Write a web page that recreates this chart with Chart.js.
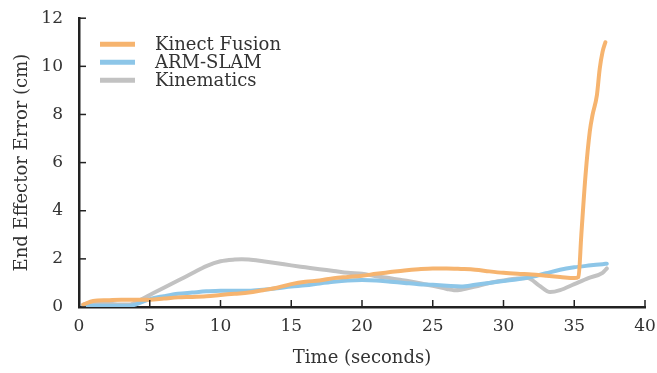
<!DOCTYPE html>
<html>
<head>
<meta charset="utf-8">
<script src="https://cdn.jsdelivr.net/npm/chart.js@4"></script>
<style>
  html, body { margin: 0; padding: 0; background: #fff; }
  #wrap { width: 657px; height: 373px; }
</style>
</head>
<body>
<div id="wrap"><canvas id="errChart" width="657" height="373"></canvas></div>
<script>
// data
const kinectT = [0.3, 1, 2, 3, 3.5, 4, 5, 6, 7, 8, 9, 10, 11, 12, 13, 14, 15, 16, 17, 18, 19, 20, 21, 22, 23, 24, 25, 26, 27, 28, 29, 30, 31, 32, 33, 34, 35, 35.3, 35.5, 35.8, 36.1, 36.3, 36.6, 36.8, 37.0, 37.2];
const kinectY = [0.1, 0.25, 0.28, 0.3, 0.3, 0.3, 0.3, 0.35, 0.4, 0.42, 0.45, 0.5, 0.55, 0.6, 0.7, 0.8, 0.95, 1.05, 1.1, 1.2, 1.25, 1.3, 1.38, 1.45, 1.52, 1.57, 1.6, 1.6, 1.58, 1.55, 1.48, 1.42, 1.38, 1.35, 1.3, 1.25, 1.2, 1.25, 3.0, 5.5, 7.3, 8.0, 8.8, 9.9, 10.6, 11.0];

const armT = [0.3, 1, 2, 3, 3.5, 4, 5, 6, 7, 8, 9, 10, 11, 12, 13, 14, 15, 16, 17, 18, 19, 20, 21, 22, 23, 24, 25, 26, 27, 28, 29, 30, 31, 32, 33, 34, 35, 36, 37, 37.3];
const armY = [0.05, 0.05, 0.05, 0.05, 0.05, 0.1, 0.33, 0.45, 0.55, 0.6, 0.65, 0.68, 0.68, 0.68, 0.72, 0.78, 0.85, 0.9, 0.98, 1.05, 1.1, 1.12, 1.1, 1.05, 1.0, 0.95, 0.92, 0.88, 0.85, 0.92, 1.0, 1.08, 1.15, 1.25, 1.4, 1.55, 1.65, 1.72, 1.78, 1.8];

const kinT = [0.3, 1, 2, 3, 3.6, 4, 5, 6, 7, 8, 9, 10, 11, 11.5, 12, 13, 14, 15, 16, 17, 18, 19, 20, 21, 22, 23, 24, 25, 26, 26.5, 27, 28, 29, 30, 31, 31.7, 32.5, 33.3, 34, 35, 36, 37, 37.3];
const kinY = [0.1, 0.2, 0.15, 0.1, 0.1, 0.2, 0.5, 0.8, 1.1, 1.4, 1.7, 1.9, 1.97, 1.98, 1.97, 1.9, 1.82, 1.73, 1.65, 1.57, 1.5, 1.42, 1.38, 1.28, 1.2, 1.1, 1.0, 0.88, 0.75, 0.7, 0.72, 0.85, 1.0, 1.1, 1.18, 1.2, 0.9, 0.62, 0.7, 0.95, 1.2, 1.42, 1.6];

const seriesNames = ['Kinect Fusion', 'ARM-SLAM', 'Kinematics'];
const seriesColors = ['#F6B46F', '#8DC6E8', '#C2C2C2'];
const xTicks = [0, 5, 10, 15, 20, 25, 30, 35, 40];
const yTicks = [0, 2, 4, 6, 8, 10, 12];

const serif = "'DejaVu Serif', serif";

function toPts(t, v) {
    return t.map((x, i) => ({ x: x, y: v[i] }));
}

// inward tick marks, like the original figure
const innerTicks = {
    id: 'innerTicks',
    afterDraw(chart) {
        const ctx = chart.ctx;
        const xs = chart.scales.x, ys = chart.scales.y;
        const area = chart.chartArea;
        ctx.save();
        ctx.strokeStyle = '#222';
        ctx.lineWidth = 1.5;
        xTicks.forEach(v => {
            const px = xs.getPixelForValue(v);
            ctx.beginPath();
            ctx.moveTo(px, area.bottom);
            ctx.lineTo(px, area.bottom - 7);
            ctx.stroke();
        });
        yTicks.forEach(v => {
            const py = ys.getPixelForValue(v);
            ctx.beginPath();
            ctx.moveTo(area.left, py);
            ctx.lineTo(area.left + 7, py);
            ctx.stroke();
        });
        ctx.restore();
    }
};

// legend inside the plot, top left
const innerLegend = {
    id: 'innerLegend',
    afterDraw(chart) {
        const ctx = chart.ctx;
        const area = chart.chartArea;
        ctx.save();
        ctx.font = "18px " + serif;
        ctx.textBaseline = 'middle';
        chart.data.datasets.forEach((ds, i) => {
            const y = area.top + 26 + i * 18;
            ctx.strokeStyle = ds.borderColor;
            ctx.lineWidth = 5;
            ctx.beginPath();
            ctx.moveTo(area.left + 21, y);
            ctx.lineTo(area.left + 56, y);
            ctx.stroke();
            ctx.fillStyle = '#333';
            ctx.fillText(ds.label, area.left + 76, y + 1);
        });
        ctx.restore();
    }
};

const errCtx = document.getElementById('errChart').getContext('2d');
new Chart(errCtx, {
    type: 'line',
    data: {
        datasets: [
            { label: seriesNames[0], data: toPts(kinectT, kinectY), borderColor: seriesColors[0] },
            { label: seriesNames[1], data: toPts(armT, armY), borderColor: seriesColors[1] },
            { label: seriesNames[2], data: toPts(kinT, kinY), borderColor: seriesColors[2] }
        ]
    },
    options: {
        responsive: false,
        animation: false,
        elements: {
            point: { radius: 0 },
            line: { borderWidth: 4, cubicInterpolationMode: 'monotone', borderCapStyle: 'round', borderJoinStyle: 'round' }
        },
        layout: { padding: { top: 15, right: 12, left: 0, bottom: 0 } },
        plugins: {
            legend: { display: false },
            tooltip: { enabled: false }
        },
        scales: {
            x: {
                type: 'linear',
                min: 0,
                max: 40,
                afterBuildTicks(s) { s.ticks = xTicks.map(v => ({ value: v })); },
                afterFit(s) { s.height = 66; },
                grid: { display: false },
                border: { display: true, color: '#222', width: 2.5 },
                ticks: { color: '#333', font: { family: serif, size: 17 }, padding: 1, maxRotation: 0 },
                title: { display: true, text: 'Time (seconds)', color: '#333', font: { family: serif, size: 18 }, padding: { top: 0 } }
            },
            y: {
                type: 'linear',
                min: 0,
                max: 12,
                afterBuildTicks(s) { s.ticks = yTicks.map(v => ({ value: v })); },
                afterFit(s) { s.width = 79; },
                grid: { display: false },
                border: { display: true, color: '#222', width: 2.5 },
                ticks: { color: '#333', font: { family: serif, size: 17 }, padding: 8 },
                title: { display: true, text: 'End Effector Error (cm)', color: '#333', font: { family: serif, size: 18 }, padding: { top: 12, bottom: 4 } }
            }
        }
    },
    plugins: [innerTicks, innerLegend]
});
</script>
</body>
</html>
